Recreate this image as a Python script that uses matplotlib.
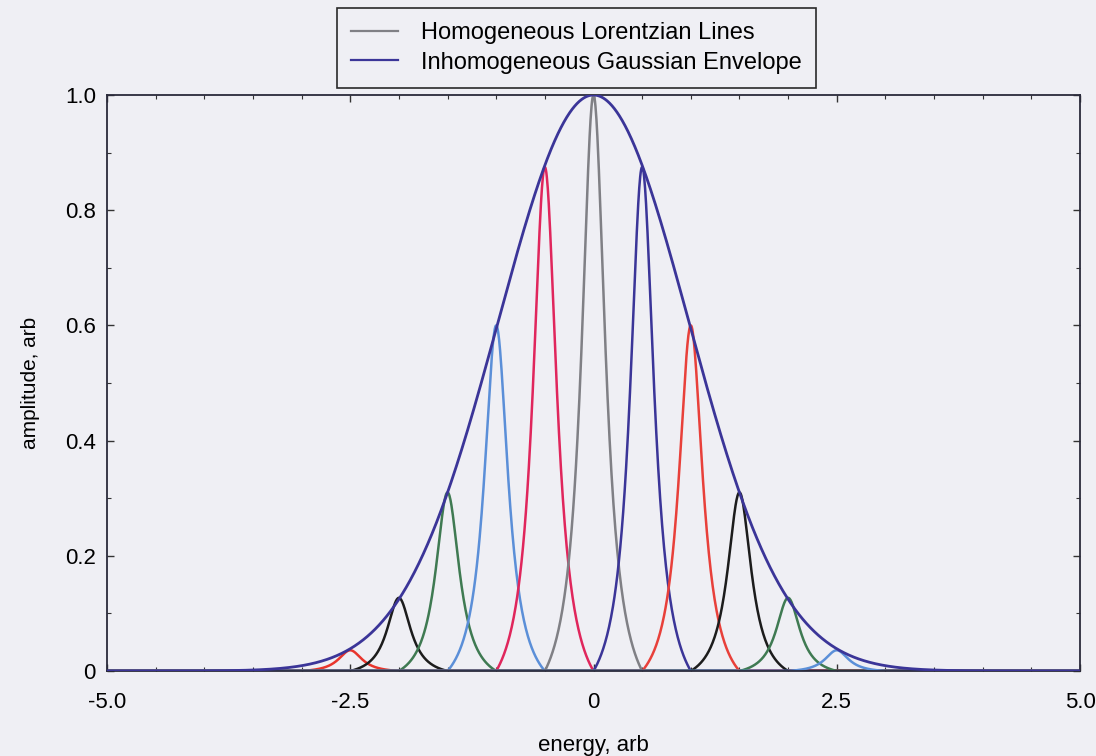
import numpy as np
import matplotlib
matplotlib.use("Agg")
import matplotlib.pyplot as plt
from matplotlib.lines import Line2D

plt.rcParams['font.family'] = ['Liberation Sans', 'DejaVu Sans']

# centros y alturas de las lineas homogeneas
centros = [-2.5, -2.0, -1.5, -1.0, -0.5, 0.0, 0.5, 1.0, 1.5, 2.0, 2.5]
alturas = [0.036, 0.127, 0.31, 0.60, 0.875, 1.0, 0.875, 0.60, 0.31, 0.127, 0.036]
colores = ['#e8352c', '#1c1c1c', '#3f7a52', '#5b8fd8', '#e0265c', '#808085',
           '#3b3598', '#e8403a', '#1c1c1c', '#3f7a52', '#5b8fd8']

ancho_lorentz = 0.15   # semi-anchura de cada linea
corte = 0.5            # cada linea llega a cero a +-0.5 de su centro
sigma_env = 0.98       # anchura de la envolvente gaussiana

x_ticks = [-5.0, -2.5, 0.0, 2.5, 5.0]
x_labels = ['-5.0', '-2.5', '0', '2.5', '5.0']
y_ticks = [0, 0.2, 0.4, 0.6, 0.8, 1.0]
y_labels = ['0', '0.2', '0.4', '0.6', '0.8', '1.0']

fondo = '#efeff4'
env_color = '#3b3598'


def linea(x, c, h):
    L = 1 / (1 + ((x - c) / ancho_lorentz) ** 2)
    L0 = 1 / (1 + (corte / ancho_lorentz) ** 2)
    y = (L - L0) / (1 - L0)
    y[np.abs(x - c) > corte] = 0
    return h * y


x = np.linspace(-5, 5, 2001)
envolvente = np.exp(-x ** 2 / (2 * sigma_env ** 2))

fig = plt.figure(figsize=(10.96, 7.56), dpi=100, facecolor=fondo)
ax = fig.add_axes([107 / 1096, 1 - 671 / 756, (1080 - 107) / 1096, (671 - 95) / 756])
ax.set_facecolor(fondo)

for c, h, col in zip(centros, alturas, colores):
    ax.plot(x, linea(x, c, h), color=col, lw=1.8, zorder=2)
ax.plot(x, envolvente, color=env_color, lw=2.0, zorder=3)

ax.set_xlim(-5, 5)
ax.set_ylim(0, 1)
ax.set_xticks(x_ticks)
ax.set_xticklabels(x_labels)
ax.set_yticks(y_ticks)
ax.set_yticklabels(y_labels)
ax.set_xticks(np.arange(-5, 5.01, 0.5), minor=True)
ax.set_yticks(np.arange(0, 1.01, 0.1), minor=True)
ax.tick_params(which='both', direction='in', top=True, right=True,
               colors='#333333', labelcolor='black', labelsize=16)
ax.tick_params(axis='x', which='major', pad=15)
ax.tick_params(axis='y', which='major', pad=8)
ax.tick_params(which='major', length=5, width=1)
ax.tick_params(which='minor', length=3, width=0.8)
for s in ax.spines.values():
    s.set_color('#2a2a3a')
    s.set_linewidth(1.3)

ax.set_xlabel('energy, arb', fontsize=16, labelpad=16)
ax.set_ylabel('amplitude, arb', fontsize=15, labelpad=18)

handles = [Line2D([], [], color='#808085', lw=1.6),
           Line2D([], [], color=env_color, lw=1.6)]
leg = fig.legend(handles, ['Homogeneous Lorentzian Lines', 'Inhomogeneous Gaussian Envelope'],
                 loc='upper left', bbox_to_anchor=(337 / 1096, 1 - 8 / 756),
                 fontsize=17, frameon=True, fancybox=False, handlelength=2.0,
                 handletextpad=0.95, labelspacing=0.32, borderpad=0.6,
                 borderaxespad=0, facecolor=fondo, framealpha=1)
leg.get_frame().set_edgecolor('#2a2a2a')
leg.get_frame().set_linewidth(1.2)

fig.savefig('out.png', dpi=100, facecolor=fondo)
